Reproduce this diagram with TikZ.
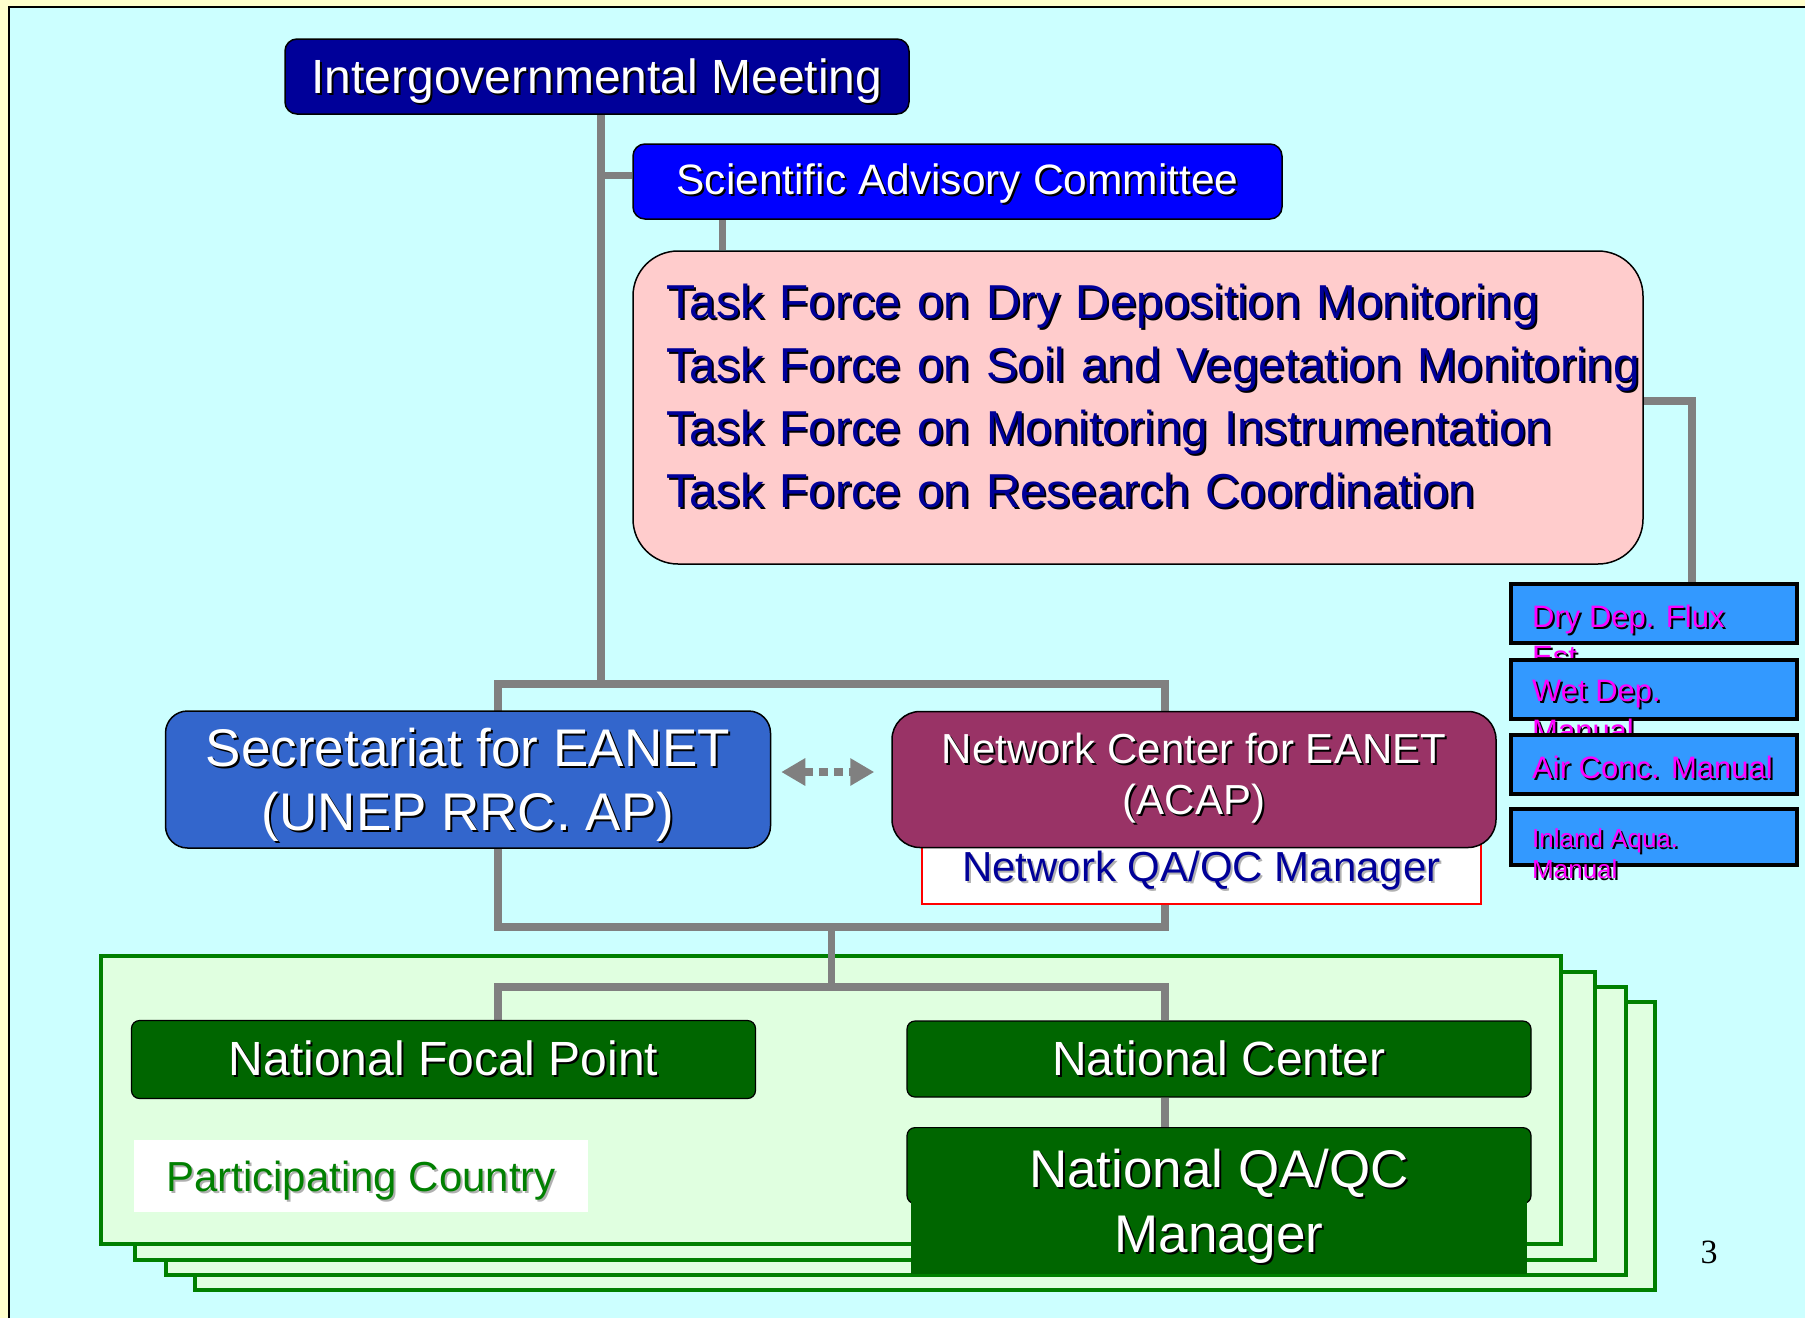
\documentclass[tikz,border=0pt]{standalone}
\usepackage{fontspec}
\setmainfont{Liberation Sans}
\newfontfamily\pagenumfont{Liberation Serif}
\usetikzlibrary{arrows.meta}

\definecolor{marginyellow}{HTML}{FFFFCC}
\definecolor{slidecyan}{HTML}{CCFFFF}
\definecolor{imnavy}{HTML}{000099}
\definecolor{sacblue}{HTML}{0000FF}
\definecolor{tfpink}{HTML}{FFCCCC}
\definecolor{secblue}{HTML}{3366CC}
\definecolor{ncpurple}{HTML}{993366}
\definecolor{manualblue}{HTML}{3399FF}
\definecolor{manualpink}{HTML}{FF00FF}
\definecolor{natgreen}{HTML}{006600}
\definecolor{framegreen}{HTML}{008000}
\definecolor{framefill}{HTML}{E0FFE0}
\definecolor{linkgray}{HTML}{808080}
\definecolor{shadowgray}{HTML}{B0B0B0}

\pgfdeclarelayer{back}
\pgfdeclarelayer{links}
\pgfsetlayers{back,links,main}

% text with a drop shadow
\newcommand{\sh}[2][black]{\mbox{\rlap{\kern2pt\raisebox{-2pt}{\textcolor{#1}{#2}}}#2}}

\begin{document}
\begin{tikzpicture}
[
    x=1pt, y=-1pt,
    orgbox/.style={draw=black, line width=1.5pt, rounded corners=12pt, text=white, align=center, inner sep=0pt},
    manualbox/.style={draw=black, line width=4pt, fill=manualblue, minimum width=286pt, anchor=north west, inner sep=0pt},
    manualtext/.style={anchor=north west, inner sep=0pt, align=left, text=manualpink, font=\fontsize{31}{40}\selectfont},
    natbox/.style={draw=black, line width=1.2pt, fill=natgreen, rounded corners=8pt, minimum width=624pt, inner sep=0pt, text=white, font=\fontsize{48}{58}\selectfont},
    link/.style={draw=linkgray, line width=7.5pt},
]
\useasboundingbox (0,0) rectangle (1805,1318);

\begin{pgfonlayer}{back}
\fill[marginyellow] (0,0) rectangle (1805,1318);
\fill[slidecyan] (9,7) rectangle (1805,1318);
\draw[line width=2.5pt] (9,1318) -- (9,7) -- (1805,7);
% stacked participating country sheets
\foreach \dx/\dy in {94/46, 65/31, 34/16, 0/0}
    \draw[draw=framegreen, fill=framefill, line width=4pt] (101+\dx,956+\dy) rectangle (1561+\dx,1244+\dy);
\end{pgfonlayer}

\node[orgbox, fill=imnavy, minimum width=624pt, minimum height=75pt, font=\fontsize{48}{58}\selectfont] (igm) at (597,76.5)
{\rule{0pt}{45pt}\sh{Intergovernmental Meeting}};
\node[orgbox, fill=sacblue, minimum width=649pt, minimum height=75pt, font=\fontsize{42.5}{50}\selectfont] (sac) at (957.5,181.5)
{\rule{0pt}{37pt}\sh{Scientific Advisory Committee}};
\node[orgbox, fill=tfpink, rounded corners=45pt, minimum width=1010pt, minimum height=313pt, text=imnavy, align=left, text width=944pt, font=\fontsize{47.6}{63}\selectfont] (tf) at (1138,407.5)
{\sh{Task Force on Dry Deposition Monitoring}\\
 \sh{Task Force on Soil and Vegetation Monitoring}\\
 \sh{Task Force on Monitoring Instrumentation}\\
 \sh{Task Force on Research Coordination}\rule[-23pt]{0pt}{1pt}};

\node[orgbox, fill=secblue, rounded corners=22pt, minimum width=605pt, minimum height=137pt, font=\fontsize{53}{64}\selectfont] (sec) at (468,779.5)
{\rule{0pt}{50pt}\sh{Secretariat for EANET}\\\sh{(UNEP RRC. AP)}};
\node[fill=white, draw=red, line width=1.5pt, minimum width=559pt, minimum height=64pt, inner sep=0pt, text=imnavy, font=\fontsize{42}{50}\selectfont] (netqa) at (1201.5,872)
{\sh[shadowgray]{Network QA/QC Manager}};
\node[orgbox, fill=ncpurple, rounded corners=28pt, minimum width=604pt, minimum height=136pt, font=\fontsize{42}{51}\selectfont] (nc) at (1194,779.5)
{\sh{Network Center for EANET}\\\sh{(ACAP)}};

% manuals, each box hides the overflow of the one above
\node[manualbox, minimum height=59pt] (dry) at (1509,582) {};
\node[manualtext] (drytext) at (1532,605) {\sh{Dry Dep. Flux}\\\sh{Est.}};
\node[manualbox, minimum height=59pt] (wet) at (1509,658) {};
\node[manualtext] (wettext) at (1532,680) {\sh{Wet Dep.}\\\sh{Manual}};
\node[manualbox, minimum height=59pt] (air) at (1509,733) {};
\node[manualtext] (airtext) at (1532,756) {\sh{Air Conc. Manual}};
\node[manualbox, minimum height=56pt] (inland) at (1509,807) {};
\node[manualtext, font=\fontsize{26}{31}\selectfont] (inlandtext) at (1532,828) {\sh{Inland Aqua.}\\\sh{Manual}};

\node[natbox, minimum height=78pt] (nfp) at (443.5,1059.5) {\sh{National Focal Point}};
\node[natbox, minimum height=76pt] (nctr) at (1219,1059) {\sh{National Center}};
\node[natbox, minimum height=76pt, anchor=north] (nqm) at (1219,1127) {};
\fill[natgreen] ([xshift=5pt,yshift=13pt]nqm.south west) rectangle ([xshift=-5pt,yshift=-70pt]nqm.south east);
\node[text=white, align=center, font=\fontsize{53}{65}\selectfont] (nqmtext) at (1219,1207)
{\sh{National QA/QC}\\\sh{Manager}};

\node[fill=white, minimum width=454pt, minimum height=72pt, inner sep=0pt, text=framegreen, font=\fontsize{42}{50}\selectfont] (pc) at (361,1176)
{\rule{0pt}{42pt}\sh[shadowgray]{Participating Country}};
\node[font=\pagenumfont\fontsize{34}{40}\selectfont] (pagenum) at (1709,1252) {3};

\draw[linkgray, line width=8pt, dash pattern=on 9pt off 6pt, shorten <=10pt, shorten >=17pt,
    {Triangle[length=24pt,width=26pt]}-{Triangle[length=24pt,width=26pt]}]
    ([yshift=7.5pt]sec.east) -- ([yshift=7.5pt]nc.west);

% connectors
\coordinate (jtop) at (601,684);
\coordinate (bl) at (498,684);
\coordinate (bbr) at (1165,927);
\coordinate (jlow) at (831.5,987);
\begin{pgfonlayer}{links}
\draw[link] (jtop |- igm.south) -- (jtop);
\draw[link] ([yshift=6pt]sac.west) -| (jtop |- igm.south);
\draw[link] ([xshift=90pt]sac.south west) -- ([xshift=90pt]tf.north west);
\draw[link] ([yshift=6.5pt]tf.east) -| ([xshift=38pt]dry.north);
\draw[link] (bl) rectangle (bbr);
\draw[link] (jlow |- bbr) -- (jlow);
\draw[link] (bl |- nfp.north) |- (jlow) -| (bbr |- nctr.north);
\draw[link] (bbr |- nctr.south) -- (bbr |- nqm.north);
\end{pgfonlayer}
\end{tikzpicture}
\end{document}
